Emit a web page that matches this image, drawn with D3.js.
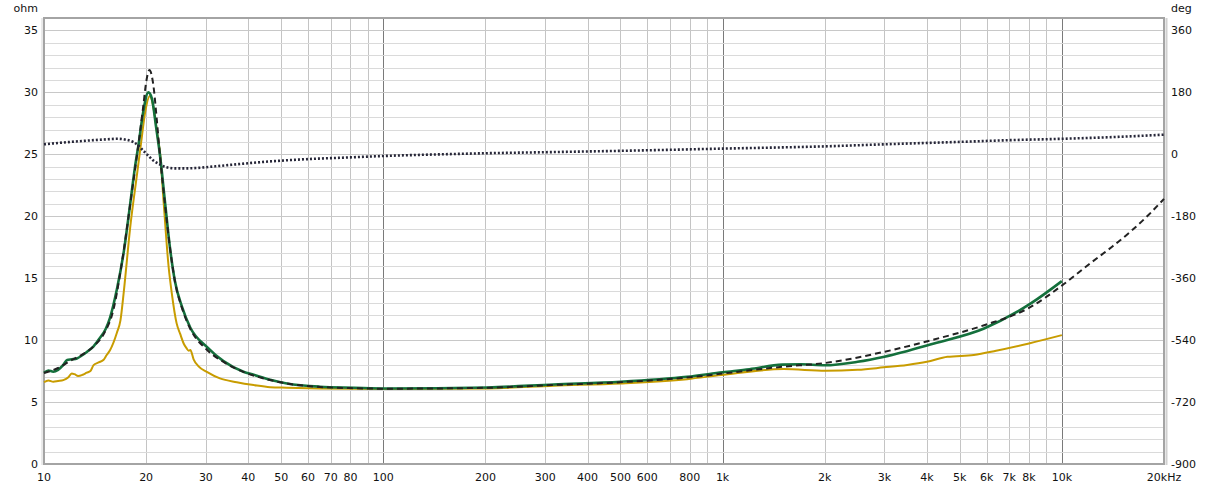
<!DOCTYPE html>
<html><head><meta charset="utf-8">
<script src="https://cdn.jsdelivr.net/npm/d3@7"></script>
<style>html,body{margin:0;padding:0;background:#fff;}svg{display:block;}</style>
</head><body>
<svg id="chart" width="1222" height="488"></svg>
<script>
// ---- data ----
const greenFreq = [10,10.3,10.65,11,11.4,11.7,12.1,12.5,13,13.4,14,14.6,15.2,15.65,16.4,17.2,17.95,18.55,19,19.6,20.3,20.8,21.4,22,22.7,23.5,24.3,25.5,27,30.2,33.8,38.7,41.5,46.4,52,65,82,102,203,318,500,786,1000,1200,1500,1700,2000,2500,3000,4200,5900,8100,10000];
const greenOhm  = [7.37,7.55,7.45,7.6,8.0,8.4,8.45,8.52,8.8,9.06,9.5,10.16,10.9,11.8,14.1,17.2,21.0,24.0,25.8,28.4,30.0,29.5,27.2,24.8,21.3,17.5,14.8,12.7,11.0,9.45,8.3,7.45,7.2,6.8,6.5,6.24,6.16,6.1,6.18,6.42,6.64,7.04,7.4,7.65,8.02,8.05,7.97,8.25,8.66,9.73,10.94,12.96,14.76];

const goldFreq = [10,10.3,10.65,11,11.4,11.8,12.07,12.3,12.6,13,13.37,13.7,14,14.5,14.96,15.3,15.65,16.4,16.8,17.2,17.95,18.76,19.3,19.9,20.5,21.1,21.6,22,22.5,23.3,23.8,24.6,25.2,25.8,26.3,26.7,27,27.6,28.5,30.2,33,37,41.5,46.4,52,65,102,203,318,500,786,990,1514,2013,2500,2985,3500,4000,4600,5500,6400,8000,10000];
const goldOhm  = [6.6,6.75,6.64,6.7,6.77,7.0,7.31,7.25,7.1,7.2,7.37,7.5,7.98,8.2,8.39,8.8,9.19,10.6,11.6,14.0,19.1,23.2,25.8,28.5,29.7,28.5,26.5,25.0,21.3,15.9,13.8,11.35,10.5,9.73,9.35,9.15,9.2,8.45,7.9,7.44,6.91,6.6,6.37,6.2,6.16,6.1,6.05,6.1,6.32,6.5,6.85,7.18,7.66,7.53,7.6,7.8,8.0,8.25,8.65,8.8,9.14,9.73,10.4];

const modelFreq = [10,11,12,13,14,15,16,17,18,19,19.6,20,20.45,21,21.5,22,22.7,23.5,24.3,25.5,27,30,34,39,46,52,65,82,100,200,300,500,800,1000,1500,2000,3000,4200,5900,8000,10000,12000,14000,16000,18000,20000];
const modelOhm  = [7.35,7.75,8.35,8.85,9.5,10.5,12.4,16.4,21.2,25.9,28.8,30.8,31.8,30.6,27.8,24.7,21.1,17.5,14.8,12.6,10.9,9.3,8.2,7.4,6.8,6.5,6.22,6.12,6.08,6.15,6.35,6.6,7.0,7.3,7.85,8.15,9.06,10.05,11.2,12.6,14.4,16.1,17.5,18.8,20.1,21.4];

const phaseFreq = [10,12,14,15,16.5,17.5,18.3,19,19.6,20.3,21,22,23,24.5,26,28,32,38,46,60,80,100,150,200,300,500,700,1000,1500,2000,3000,5000,7000,10000,15000,20000];
const phaseDeg  = [29,36,41,43,45,42,36,25,11,-4,-18,-30,-38,-41,-41,-40,-35,-28,-21,-14,-9,-5,0,3,6,10,13,16.5,20,23,29,36,41,45,51,57];

const xTickValues = [10,20,30,40,50,60,70,80,100,200,300,400,500,600,800,1000,2000,3000,4000,5000,6000,7000,8000,10000,20000];
const xTickLabels = ["10","20","30","40","50","60","70","80","100","200","300","400","500","600","800","1k","2k","3k","4k","5k","6k","7k","8k","10k","20kHz"];
const yTicks = [0,5,10,15,20,25,30,35];
const degTicks = [-900,-720,-540,-360,-180,0,180,360];

// ---- layout ----
const L = 44, R = 1164, T = 18, B = 464;
const svg = d3.select("#chart");
const x = d3.scaleLog().domain([10,20000]).range([L,R]);
const y = d3.scaleLinear().domain([0,36]).range([B,T]);
const yDeg = d3.scaleLinear().domain([-900,396]).range([B,T]);

// grid
const gGrid = svg.append("g");
const minorF = [];
[10,100,1000,10000].forEach(d => { for (let k=1;k<=9;k++){ const f=d*k; if (f<=20000) minorF.push(f);} });
minorF.push(20000);
gGrid.selectAll("line.v").data(minorF).enter().append("line")
  .attr("x1", d=>Math.round(x(d))+0.5).attr("x2", d=>Math.round(x(d))+0.5)
  .attr("y1", T).attr("y2", B)
  .attr("stroke", d => [100,1000,10000].includes(d) ? "#7a7a7a" : "#c4c4c4")
  .attr("stroke-width", 1);
gGrid.selectAll("line.h").data(d3.range(1,36)).enter().append("line")
  .attr("x1", L).attr("x2", R)
  .attr("y1", d=>Math.round(y(d))+0.5).attr("y2", d=>Math.round(y(d))+0.5)
  .attr("stroke", d => d%5===0 ? "#c8c8c8" : "#dadada").attr("stroke-width", 1);

// frame
svg.append("rect").attr("x", L).attr("y", T).attr("width", R-L).attr("height", B-T)
  .attr("fill","none").attr("stroke","#a4a4a4").attr("stroke-width",2);
svg.append("line").attr("x1",L-2).attr("x2",L-2).attr("y1",T).attr("y2",B+1).attr("stroke","#d4d4d4").attr("stroke-width",1);
svg.append("line").attr("x1",R+2.5).attr("x2",R+2.5).attr("y1",T).attr("y2",B+1).attr("stroke","#d0d0d0").attr("stroke-width",2);

// curves
const line = d3.line().x(d=>x(d[0])).y(d=>y(d[1])).curve(d3.curveMonotoneX);
const lineDeg = d3.line().x(d=>x(d[0])).y(d=>yDeg(d[1])).curve(d3.curveMonotoneX);
const zip = (a,b) => a.map((v,i)=>[v,b[i]]);

const gPlot = svg.append("g");
gPlot.append("path").attr("d", line(zip(goldFreq,goldOhm)))
  .attr("fill","none").attr("stroke","#c89c00").attr("stroke-width",2);
gPlot.append("path").attr("d", line(zip(greenFreq,greenOhm)))
  .attr("fill","none").attr("stroke","#14703c").attr("stroke-width",2.6);
gPlot.append("path").attr("d", line(zip(modelFreq,modelOhm)))
  .attr("fill","none").attr("stroke","#222222").attr("stroke-width",2).attr("stroke-dasharray","6,4");
gPlot.append("path").attr("d", lineDeg(zip(phaseFreq,phaseDeg)))
  .attr("fill","none").attr("stroke","#262638").attr("stroke-width",2.6).attr("stroke-dasharray","2,2");

// axes text
const font = "'DejaVu Sans', sans-serif";
const gTxt = svg.append("g").attr("font-family", font).attr("font-size", 11).attr("fill", "#111");
gTxt.selectAll("text.yl").data(yTicks).enter().append("text")
  .attr("x", 38).attr("y", d=>y(d)).attr("dy","0.35em").attr("text-anchor","end").text(d=>d);
gTxt.selectAll("text.yr").data(degTicks).enter().append("text")
  .attr("x", 1171).attr("y", d=>yDeg(d)).attr("dy","0.35em").attr("text-anchor","start").text(d=>d);
gTxt.selectAll("text.xl").data(xTickValues).enter().append("text")
  .attr("x", d=>x(d)).attr("y", 477).attr("dy","0.35em").attr("text-anchor","middle")
  .text((d,i)=>xTickLabels[i]);
gTxt.append("text").attr("x", 38).attr("y", 8).attr("dy","0.35em").attr("text-anchor","end").text("ohm");
gTxt.append("text").attr("x", 1171).attr("y", 8).attr("dy","0.35em").attr("text-anchor","start").text("deg");
</script>
</body></html>
